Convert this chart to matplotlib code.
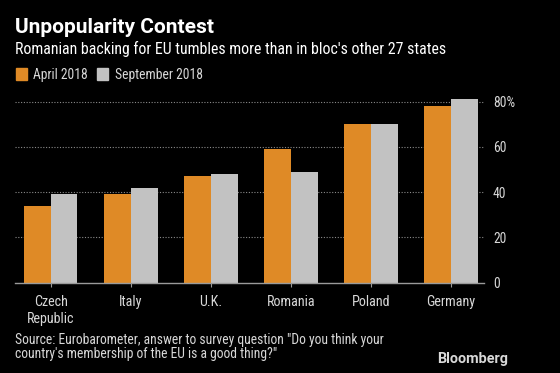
import matplotlib
matplotlib.use('Agg')
import matplotlib.pyplot as plt
import numpy as np

plt.rcParams['font.family'] = ['Roboto Condensed', 'Roboto', 'DejaVu Sans']

# Data
countries = ['Czech\nRepublic', 'Italy', 'U.K.', 'Romania', 'Poland', 'Germany']
april_2018 = [34, 39, 47, 59, 70, 78]
september_2018 = [39, 42, 48, 49, 70, 81]
y_ticks = [0, 20, 40, 60, 80]
y_tick_labels = ['0', '20', '40', '60', '80%']

ORANGE = '#DF8A26'
GREY = '#C2C2C2'
TEXT = '#D8D8D8'

fig = plt.figure(figsize=(5.6, 3.73), dpi=100, facecolor='black')
ax = fig.add_axes([0.0268, 0.2421, 0.8375, 0.5095], facecolor='black')

x = np.arange(len(countries))
w = 0.335
ax.bar(x - w / 2, april_2018, width=w, color=ORANGE, zorder=3)
ax.bar(x + w / 2, september_2018, width=w, color=GREY, zorder=3)

ax.set_xlim(-0.446, 5.416)
ax.set_ylim(0, 84)

# Grid
for yv in y_ticks[1:]:
    ax.axhline(yv, color='#8A8A8A', linestyle=(0, (1, 1.5)), linewidth=0.8, zorder=1)

for s in ['top', 'left', 'right']:
    ax.spines[s].set_visible(False)
ax.spines['bottom'].set_color('#9A9A9A')
ax.spines['bottom'].set_linewidth(1.0)
ax.spines['bottom'].set_zorder(4)

ax.yaxis.tick_right()
ax.set_yticks(y_ticks)
ax.set_yticklabels(y_tick_labels)
ax.tick_params(axis='y', length=0, pad=6.5, labelcolor=TEXT, labelsize=9.8)
ax.set_xticks(x)
ax.set_xticklabels(countries, linespacing=1.3)
ax.tick_params(axis='x', length=3, color='#9A9A9A', pad=6, labelcolor=TEXT, labelsize=10.2)

# Titles
fig.text(0.0268, 0.9107, 'Unpopularity Contest', color='white', fontsize=15,
         fontweight='bold', va='baseline', ha='left', family=['Roboto', 'DejaVu Sans'])
fig.text(0.0268, 0.8544, "Romanian backing for EU tumbles more than in bloc's other 27 states",
         color='white', fontsize=11.4, va='baseline', ha='left')

# Legend
fig.patches.append(plt.Rectangle((0.0286, 0.7855), 0.0196, 0.031, color=ORANGE,
                                 transform=fig.transFigure, figure=fig))
fig.text(0.059, 0.7873, 'April 2018', color=TEXT, fontsize=9.8, va='baseline', ha='left')
fig.patches.append(plt.Rectangle((0.173, 0.7855), 0.0196, 0.031, color=GREY,
                                 transform=fig.transFigure, figure=fig))
fig.text(0.2054, 0.7873, 'September 2018', color=TEXT, fontsize=9.8, va='baseline', ha='left')

# Footer
fig.text(0.0268, 0.0765, 'Source: Eurobarometer, answer to survey question "Do you think your',
         color=TEXT, fontsize=9.8, va='baseline', ha='left')
fig.text(0.0268, 0.0415, 'country\'s membership of the EU is a good thing?"',
         color=TEXT, fontsize=9.8, va='baseline', ha='left')
fig.text(0.907, 0.0276, 'Bloomberg', color=TEXT, fontsize=10.4, fontweight='bold',
         va='baseline', ha='right', family=['Roboto', 'DejaVu Sans'])

fig.savefig('out.png', dpi=100, facecolor='black')
